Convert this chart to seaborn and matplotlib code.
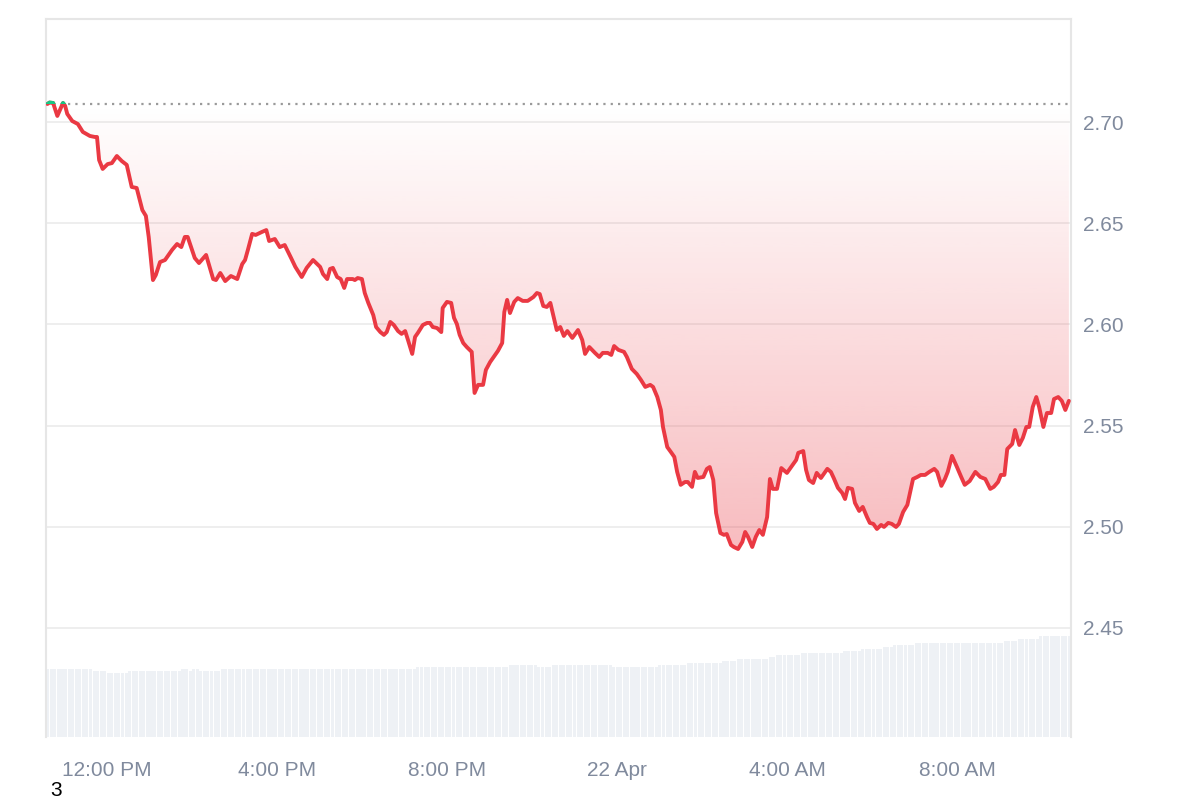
import numpy as np
import pandas as pd
import matplotlib
matplotlib.use("Agg")
import matplotlib.pyplot as plt
import matplotlib.dates as mdates
from matplotlib.colors import to_rgb
from matplotlib.patches import Rectangle
import seaborn as sns

# ---------------- data ----------------
START = "2025-04-21 10:34"
END_MINUTES = 1447

# minutes after START
MINUTES = [
    2, 5, 10, 16, 24, 27, 30, 37, 45, 52,
    62, 69, 72, 75, 80, 87, 93, 100, 107, 114,
    121, 128, 136, 141, 145, 151, 155, 161, 168, 178,
    185, 191, 196, 200, 210, 216, 226, 236, 240, 246,
    253, 261, 270, 277, 281, 285, 291, 296, 305, 311,
    315, 323, 330, 337, 346, 352, 361, 368, 377, 387,
    391, 397, 401, 405, 411, 416, 421, 425, 433, 436,
    440, 446, 450, 455, 462, 466, 472, 477, 481, 486,
    491, 497, 502, 507, 511, 517, 521, 525, 532, 538,
    542, 546, 552, 558, 560, 566, 572, 576, 580, 584,
    589, 594, 601, 605, 610, 617, 621, 627, 632, 638,
    644, 647, 651, 655, 661, 666, 673, 680, 688, 693,
    697, 702, 707, 712, 721, 726, 731, 736, 743, 751,
    757, 761, 767, 775, 781, 786, 793, 798, 802, 808,
    816, 820, 827, 834, 840, 846, 853, 857, 863, 868,
    871, 877, 882, 887, 891, 896, 902, 906, 912, 916,
    920, 928, 933, 937, 942, 946, 952, 957, 961, 967,
    971, 977, 983, 987, 991, 997, 1002, 1007, 1012, 1018,
    1022, 1026, 1032, 1038, 1046, 1053, 1059, 1062, 1069, 1073,
    1077, 1083, 1088, 1094, 1103, 1108, 1112, 1118, 1124, 1128,
    1132, 1138, 1142, 1148, 1153, 1159, 1163, 1168, 1173, 1179,
    1183, 1189, 1194, 1200, 1204, 1210, 1216, 1224, 1230, 1235,
    1241, 1247, 1254, 1258, 1264, 1269, 1273, 1279, 1286, 1292,
    1297, 1304, 1312, 1319, 1326, 1333, 1338, 1344, 1348, 1353,
    1357, 1364, 1368, 1374, 1379, 1384, 1388, 1393, 1398, 1402,
    1408, 1413, 1419, 1423, 1429, 1434, 1439, 1444,
]

PRICE = [
    2.7089, 2.7096, 2.7094, 2.7030, 2.7094, 2.7080, 2.7040, 2.7005, 2.6990, 2.6951,
    2.6931, 2.6926, 2.6926, 2.6812, 2.6768, 2.6792, 2.6797, 2.6832, 2.6807, 2.6788,
    2.6679, 2.6674, 2.6565, 2.6536, 2.6432, 2.6219, 2.6244, 2.6308, 2.6318, 2.6368,
    2.6397, 2.6382, 2.6432, 2.6432, 2.6328, 2.6303, 2.6343, 2.6224, 2.6219, 2.6254,
    2.6214, 2.6239, 2.6224, 2.6298, 2.6318, 2.6368, 2.6447, 2.6442, 2.6457, 2.6466,
    2.6412, 2.6422, 2.6382, 2.6392, 2.6328, 2.6284, 2.6234, 2.6279, 2.6318, 2.6284,
    2.6249, 2.6224, 2.6274, 2.6279, 2.6234, 2.6224, 2.6180, 2.6224, 2.6224, 2.6219,
    2.6229, 2.6224, 2.6155, 2.6106, 2.6046, 2.5987, 2.5962, 2.5948, 2.5962, 2.6012,
    2.5997, 2.5967, 2.5953, 2.5967, 2.5923, 2.5854, 2.5938, 2.5958, 2.5997, 2.6007,
    2.6007, 2.5987, 2.5982, 2.5962, 2.6081, 2.6111, 2.6106, 2.6032, 2.6002, 2.5948,
    2.5908, 2.5888, 2.5864, 2.5661, 2.5701, 2.5701, 2.5775, 2.5814, 2.5839, 2.5869,
    2.5908, 2.6061, 2.6121, 2.6056, 2.6111, 2.6130, 2.6116, 2.6116, 2.6135, 2.6155,
    2.6150, 2.6091, 2.6086, 2.6106, 2.5972, 2.5987, 2.5943, 2.5967, 2.5933, 2.5972,
    2.5923, 2.5854, 2.5888, 2.5859, 2.5839, 2.5859, 2.5859, 2.5849, 2.5893, 2.5874,
    2.5864, 2.5839, 2.5780, 2.5755, 2.5725, 2.5691, 2.5701, 2.5691, 2.5641, 2.5577,
    2.5493, 2.5394, 2.5370, 2.5345, 2.5271, 2.5207, 2.5221, 2.5221, 2.5197, 2.5271,
    2.5241, 2.5246, 2.5286, 2.5295, 2.5231, 2.5068, 2.4969, 2.4960, 2.4964, 2.4910,
    2.4900, 2.4890, 2.4925, 2.4974, 2.4950, 2.4900, 2.4950, 2.4984, 2.4960, 2.5048,
    2.5236, 2.5187, 2.5187, 2.5290, 2.5266, 2.5300, 2.5330, 2.5365, 2.5374, 2.5281,
    2.5231, 2.5216, 2.5266, 2.5241, 2.5286, 2.5271, 2.5241, 2.5192, 2.5167, 2.5137,
    2.5192, 2.5187, 2.5118, 2.5078, 2.5098, 2.5048, 2.5019, 2.5014, 2.4989, 2.5009,
    2.4999, 2.5019, 2.5014, 2.4999, 2.5014, 2.5073, 2.5108, 2.5236, 2.5246, 2.5256,
    2.5256, 2.5271, 2.5286, 2.5271, 2.5202, 2.5236, 2.5271, 2.5350, 2.5295, 2.5246,
    2.5207, 2.5226, 2.5271, 2.5246, 2.5236, 2.5187, 2.5197, 2.5221, 2.5256, 2.5256,
    2.5384, 2.5409, 2.5478, 2.5404, 2.5439, 2.5493, 2.5493, 2.5592, 2.5641, 2.5592,
    2.5493, 2.5562, 2.5562, 2.5631, 2.5641, 2.5622, 2.5577, 2.5622,
]

# volume (relative units), given as runs of equal bars: level and number of bars
VOL_LEVEL = [67, 65, 63, 65, 67, 65, 67, 65, 67, 69, 71, 69, 71, 69, 71,
             73, 75, 77, 79, 81, 83, 85, 87, 89, 91, 93, 95, 97, 100]
VOL_COUNT = [13, 4, 6, 15, 2, 1, 2, 6, 55, 26, 8, 4, 17, 13, 8,
             10, 4, 9, 2, 7, 12, 5, 6, 3, 6, 25, 4, 6, 9]

Y_TICKS = [2.45, 2.50, 2.55, 2.60, 2.65, 2.70]
X_TICKS = ["2025-04-21 12:00", "2025-04-21 16:00", "2025-04-21 20:00",
           "2025-04-22 00:00", "2025-04-22 04:00", "2025-04-22 08:00"]
X_LABELS = ["12:00 PM", "4:00 PM", "8:00 PM", "22 Apr", "4:00 AM", "8:00 AM"]
CORNER_TEXT = "3"

# ---------------- style ----------------
RED = "#ea3943"
GREEN = "#16c784"
GRID = "#eeeeee"
SPINE = "#e6e6e6"
LABEL = "#808a9d"
VOLC = "#eef1f5"

sns.set_theme(style="white")
plt.rcParams["font.family"] = ["Liberation Sans", "DejaVu Sans"]

t0 = pd.Timestamp(START)
t_end = t0 + pd.Timedelta(minutes=END_MINUTES)
times = t0 + pd.to_timedelta(MINUTES, unit="min")
price = np.array(PRICE)
base = price[0]

fig = plt.figure(figsize=(12, 8), dpi=100, facecolor="white")
ax = fig.add_axes([46 / 1200, 1 - 737 / 800, 1025 / 1200, 718 / 800])
ax2 = ax.twinx()
ax.set_zorder(ax2.get_zorder() + 1)
ax.patch.set_visible(False)
ax2.patch.set_visible(True)
ax2.patch.set_facecolor("white")

# volume bars
vol = np.repeat(VOL_LEVEL, VOL_COUNT)
nbar = len(vol)
step = END_MINUTES / nbar
bar_times = t0 + pd.to_timedelta(step * (np.arange(nbar) + 0.5), unit="min")
ax2.bar(mdates.date2num(bar_times), vol, width=0.86 * step / 1440.0,
        color=VOLC, linewidth=0)
ax2.set_ylim(0, max(VOL_LEVEL) * 718 / 101)
ax2.set_yticks([])
for s in ax2.spines.values():
    s.set_visible(False)

# gradient fill between price and baseline
x0n, x1n = mdates.date2num(times[0]), mdates.date2num(times[-1])
lo = price.min()
n = 256
grad = np.zeros((n, 1, 4))
grad[..., :3] = to_rgb(RED)
grad[:, 0, 3] = np.linspace(0.34, 0.0, n)
im = ax.imshow(grad, extent=[x0n, x1n, lo, base], origin="lower",
               aspect="auto", interpolation="bilinear", zorder=1)
poly = ax.fill_between(times, np.minimum(price, base), base,
                       facecolor="none", edgecolor="none")
im.set_clip_path(poly.get_paths()[0], transform=ax.transData)

# baseline
ax.axhline(base, color="#9a9a9a", lw=1.6, linestyle=(0, (1, 2.3)), zorder=2)

# price line (red) and the part above baseline (green)
sns.lineplot(x=times, y=price, ax=ax, color=RED, linewidth=2.8,
             estimator=None, zorder=3)
gline, = ax.plot(times, price, color=GREEN, linewidth=2.8, zorder=4)
clip = Rectangle((mdates.date2num(t0), base), 10, 10, transform=ax.transData)
gline.set_clip_path(clip)

ax.set_xlim(t0, t_end)
ax.set_ylim(2.3961, 2.7509)
ax2.set_xlim(mdates.date2num(t0), mdates.date2num(t_end))

# axes styling
ax.set_yticks(Y_TICKS)
ax.set_yticklabels([f"{v:.2f}" for v in Y_TICKS])
ax.yaxis.tick_right()
ax.yaxis.set_label_position("right")
ax.set_xticks(pd.to_datetime(X_TICKS))
ax.set_xticklabels(X_LABELS)
ax.set_xlabel("")
ax.set_ylabel("")
ax.grid(False)
ax.yaxis.grid(True, color=GRID, linewidth=1.4)
ax.set_axisbelow(True)
ax.tick_params(axis="y", length=0, pad=9, labelsize=15, labelcolor=LABEL)
ax.tick_params(axis="x", length=0, pad=17, labelsize=15, labelcolor=LABEL)
for side in ["left", "top", "right"]:
    ax.spines[side].set_visible(True)
    ax.spines[side].set_color(SPINE)
    ax.spines[side].set_linewidth(1.5)
ax.spines["bottom"].set_visible(False)

fig.text(50 / 1200, 1 - 790 / 800, CORNER_TEXT, fontsize=15, color="black",
         va="center", ha="left")

fig.savefig("out.png", dpi=100, facecolor="white")
